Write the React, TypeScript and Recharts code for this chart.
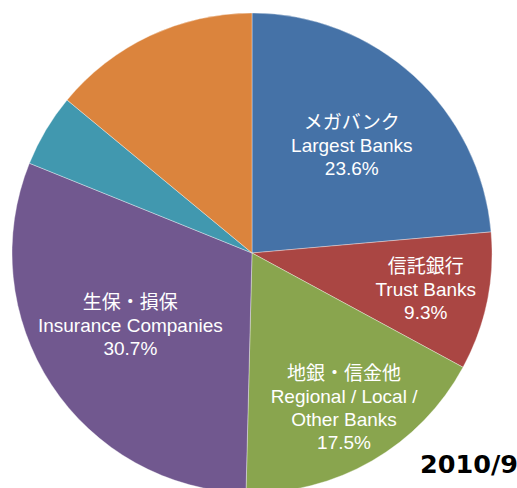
import React from "react";
import { PieChart, Pie, Cell } from "recharts";

const categories = [
  "Largest Banks",
  "Trust Banks",
  "Regional / Local / Other Banks",
  "Insurance Companies",
  "Other 1",
  "Other 2",
];
const values = [23.6, 9.3, 17.5, 30.7, 4.9, 14.0];
const colors = ["#4572A7", "#AA4643", "#89A54E", "#71588F", "#4198AF", "#DB843D"];
const labelJa = ["メガバンク", "信託銀行", "地銀・信金他", "生保・損保", "", ""];
const labelEn = [
  ["Largest Banks"],
  ["Trust Banks"],
  ["Regional / Local /", "Other Banks"],
  ["Insurance Companies"],
  [],
  [],
];
const showLabel = [true, true, true, true, false, false];
const title = "2010/9";

const data = categories.map((name, i) => ({ name, value: values[i] }));

const labelRadiusFactor = [0.61, 0.74, 0.75, 0.59, 0.6, 0.6];
const labelAngleShift = [-0.5, -0.25, 0.7, -2.5, 0, 0];
const RAD = Math.PI / 180;

const renderLabel = (props: any) => {
  const { cx, cy, midAngle, outerRadius, index } = props;
  if (!showLabel[index]) return null;
  const r = outerRadius * labelRadiusFactor[index];
  const a = midAngle + labelAngleShift[index];
  const x = cx + r * Math.cos(-a * RAD);
  const y = cy + r * Math.sin(-a * RAD);
  const lines = [labelJa[index], ...labelEn[index], values[index].toFixed(1) + "%"];
  const lh = 23;
  return (
    <g key={"lbl" + index}>
      {lines.map((t, i) => (
        <text
          key={i}
          x={x}
          y={y + (i - (lines.length - 1) / 2) * lh}
          fill="#ffffff"
          textAnchor="middle"
          dominantBaseline="central"
          fontFamily="'Liberation Sans', Arial, 'Noto Sans CJK JP', sans-serif"
          fontSize={19}
        >
          {t}
        </text>
      ))}
    </g>
  );
};

export default function App() {
  return (
    <div style={{ position: "absolute", left: 0, top: 0, width: 517, height: 488, background: "#fff", overflow: "hidden" }}>
      <PieChart width={517} height={488} margin={{ top: 0, right: 0, bottom: 0, left: 0 }}>
        <Pie
          data={data}
          dataKey="value"
          nameKey="name"
          cx={252}
          cy={253}
          outerRadius={240}
          startAngle={90}
          endAngle={-270}
          isAnimationActive={false}
          labelLine={false}
          label={renderLabel}
        >
          {data.map((d, i) => (
            <Cell key={d.name} fill={colors[i]} stroke="rgba(255,255,255,0.6)" strokeWidth={0.6} />
          ))}
        </Pie>
      </PieChart>
      <svg width={517} height={488} style={{ position: "absolute", left: 0, top: 0, pointerEvents: "none" }}>
        <text
          x={518}
          y={473}
          textAnchor="end"
          fontFamily="'DejaVu Sans', sans-serif"
          fontWeight="bold"
          fontSize={25.5}
          fill="#000"
        >
          {title}
        </text>
      </svg>
    </div>
  );
}
